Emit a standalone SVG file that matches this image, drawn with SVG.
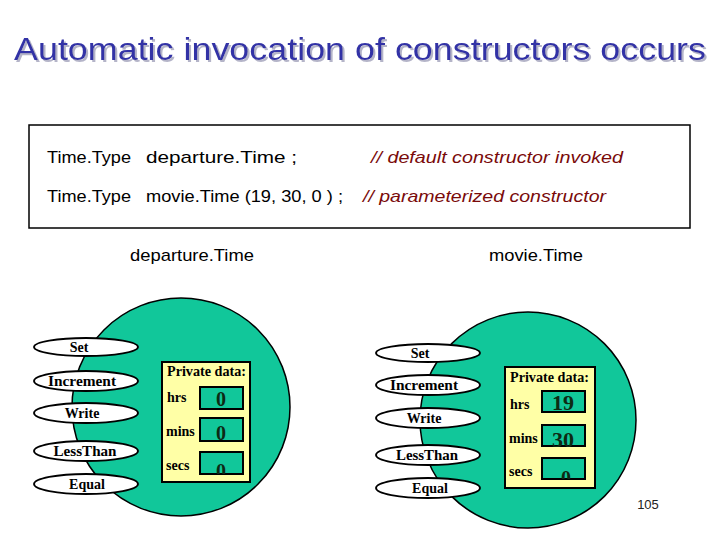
<svg xmlns="http://www.w3.org/2000/svg" width="720" height="540" viewBox="0 0 720 540">
<style>
.title{font-family:"Liberation Sans",Arial,sans-serif;font-size:32px;fill:#3333a6}
.code{font-family:"Liberation Sans",Arial,sans-serif;font-size:17px;fill:#000}
.cmt{font-family:"Liberation Sans",Arial,sans-serif;font-size:17px;font-style:italic;fill:#7a0a0a}
.lbl{font-family:"Liberation Sans",Arial,sans-serif;font-size:17px;fill:#000;text-anchor:middle}
.obj{fill:#11c79a;stroke:#000;stroke-width:1.5}
.meth{fill:#fff;stroke:#000;stroke-width:1.8}
.mt{font-family:"Liberation Serif","Times New Roman",serif;font-size:14px;font-weight:bold;fill:#000;text-anchor:middle}
.priv{fill:#ffffa6;stroke:#000;stroke-width:2}
.pt{font-family:"Liberation Serif","Times New Roman",serif;font-size:14px;font-weight:bold;fill:#000}
.vb{fill:#11c79a;stroke:#000;stroke-width:2}
.val{font-family:"Liberation Serif","Times New Roman",serif;font-size:21px;font-weight:bold;fill:#0d2a14;text-anchor:middle}
.pg{font-family:"Liberation Sans",Arial,sans-serif;font-size:13px;fill:#222;text-anchor:middle}
</style>
<defs>
<filter id="shadow" x="-5%" y="-30%" width="110%" height="160%">
<feOffset in="SourceAlpha" dx="2" dy="2" result="o"/>
<feFlood flood-color="#b4b4c8"/>
<feComposite in2="o" operator="in" result="s"/>
<feMerge><feMergeNode in="s"/><feMergeNode in="SourceGraphic"/></feMerge>
</filter>
<clipPath id="clipL"><rect x="200" y="452" width="43" height="22"/></clipPath>
<clipPath id="clipR"><rect x="542" y="458" width="43" height="21"/></clipPath>
</defs>
<rect width="720" height="540" fill="#fff"/>
<g id="title">
<text class="title" x="14" y="60" textLength="692" lengthAdjust="spacingAndGlyphs" filter="url(#shadow)">Automatic invocation of constructors occurs</text>
</g>
<g id="code-box">
<rect x="29" y="125" width="661" height="103" fill="#fff" stroke="#000" stroke-width="1.5"/>
<text class="code" x="47" y="163" textLength="84" lengthAdjust="spacingAndGlyphs">Time.Type</text>
<text class="code" x="146" y="163" textLength="151" lengthAdjust="spacingAndGlyphs">departure.Time ;</text>
<text class="cmt" x="371" y="163" textLength="252" lengthAdjust="spacingAndGlyphs">// default constructor invoked</text>
<text class="code" x="47" y="202" textLength="84" lengthAdjust="spacingAndGlyphs">Time.Type</text>
<text class="code" x="146" y="202" textLength="197" lengthAdjust="spacingAndGlyphs">movie.Time (19, 30, 0 ) ;</text>
<text class="cmt" x="363" y="202" textLength="243" lengthAdjust="spacingAndGlyphs">// parameterized constructor</text>
</g>
<g id="departureTime">
<text class="lbl" x="192" y="261" textLength="124" lengthAdjust="spacingAndGlyphs">departure.Time</text>
<circle class="obj" cx="181" cy="407" r="109"/>
<ellipse class="meth" cx="86" cy="347" rx="52" ry="9"/>
<text class="mt" x="79" y="352">Set</text>
<ellipse class="meth" cx="86" cy="381" rx="52" ry="10"/>
<text class="mt" x="82" y="386" textLength="68" lengthAdjust="spacingAndGlyphs">Increment</text>
<ellipse class="meth" cx="86" cy="413" rx="52" ry="10"/>
<text class="mt" x="82" y="418">Write</text>
<ellipse class="meth" cx="86" cy="451" rx="52" ry="10"/>
<text class="mt" x="85" y="456" textLength="63" lengthAdjust="spacingAndGlyphs">LessThan</text>
<ellipse class="meth" cx="86" cy="484" rx="52" ry="10"/>
<text class="mt" x="87" y="489">Equal</text>
<rect class="priv" x="162" y="362" width="88" height="120"/>
<text class="pt" x="167" y="376" textLength="79" lengthAdjust="spacingAndGlyphs">Private data:</text>
<text class="pt" x="167" y="402">hrs</text>
<text class="pt" x="166" y="436">mins</text>
<text class="pt" x="166" y="470">secs</text>
<rect class="vb" x="200" y="387" width="43" height="22"/>
<text class="val" x="221" y="406" textLength="10" lengthAdjust="spacingAndGlyphs">0</text>
<rect class="vb" x="200" y="418" width="43" height="23"/>
<text class="val" x="221" y="440" textLength="10" lengthAdjust="spacingAndGlyphs">0</text>
<rect class="vb" x="200" y="452" width="43" height="22"/>
<text class="val" x="221" y="478" textLength="10" lengthAdjust="spacingAndGlyphs" clip-path="url(#clipL)">0</text>
</g>
<g id="movieTime">
<text class="lbl" x="536" y="261" textLength="94" lengthAdjust="spacingAndGlyphs">movie.Time</text>
<circle class="obj" cx="528" cy="420" r="108"/>
<ellipse class="meth" cx="428" cy="353" rx="52" ry="9"/>
<text class="mt" x="420" y="358">Set</text>
<ellipse class="meth" cx="428" cy="385" rx="52" ry="10"/>
<text class="mt" x="424" y="390" textLength="68" lengthAdjust="spacingAndGlyphs">Increment</text>
<ellipse class="meth" cx="428" cy="418" rx="52" ry="10"/>
<text class="mt" x="424" y="423">Write</text>
<ellipse class="meth" cx="428" cy="455" rx="52" ry="10"/>
<text class="mt" x="427" y="460" textLength="62" lengthAdjust="spacingAndGlyphs">LessThan</text>
<ellipse class="meth" cx="428" cy="488" rx="52" ry="10"/>
<text class="mt" x="430" y="493">Equal</text>
<rect class="priv" x="505" y="367" width="90" height="121"/>
<text class="pt" x="510" y="382" textLength="79" lengthAdjust="spacingAndGlyphs">Private data:</text>
<text class="pt" x="510" y="409">hrs</text>
<text class="pt" x="509" y="443">mins</text>
<text class="pt" x="509" y="476">secs</text>
<rect class="vb" x="542" y="391" width="43" height="21"/>
<text class="val" x="563" y="410" textLength="22" lengthAdjust="spacingAndGlyphs">19</text>
<rect class="vb" x="542" y="425" width="43" height="21"/>
<text class="val" x="563" y="447" textLength="22" lengthAdjust="spacingAndGlyphs">30</text>
<rect class="vb" x="542" y="458" width="43" height="21"/>
<text class="val" x="566" y="485" textLength="10" lengthAdjust="spacingAndGlyphs" clip-path="url(#clipR)">0</text>
</g>
<g id="page-number">
<text class="pg" x="648" y="509">105</text>
</g>
</svg>
